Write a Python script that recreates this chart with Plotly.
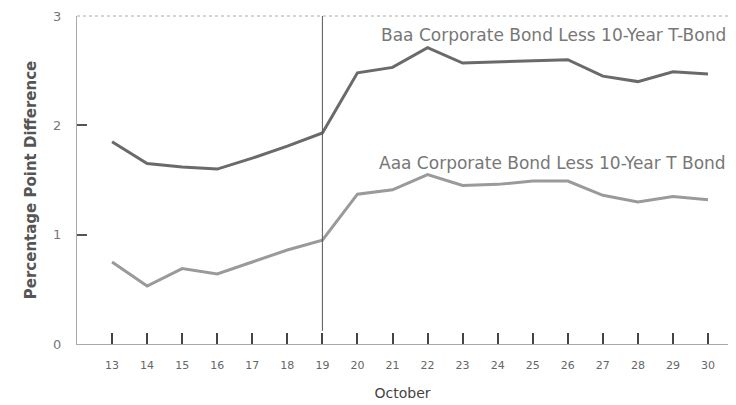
import plotly.graph_objects as go

days = list(range(13, 31))
baa = [1.85, 1.65, 1.62, 1.60, 1.70, 1.81, 1.93, 2.48, 2.53, 2.71, 2.57, 2.58, 2.59, 2.60, 2.45, 2.40, 2.49, 2.47]
aaa = [0.75, 0.53, 0.69, 0.64, 0.75, 0.86, 0.95, 1.37, 1.41, 1.55, 1.45, 1.46, 1.49, 1.49, 1.36, 1.30, 1.35, 1.32]
tick_labels = [str(d) for d in days]
baa_label = "Baa Corporate Bond Less 10-Year T-Bond"
aaa_label = "Aaa Corporate Bond Less 10-Year T Bond"
event_day = 19

FONT = "DejaVu Sans, Liberation Sans, sans-serif"

fig = go.Figure()
fig.add_trace(go.Scatter(x=days, y=baa, mode="lines", line=dict(color="#6a6a6a", width=3), showlegend=False))
fig.add_trace(go.Scatter(x=days, y=aaa, mode="lines", line=dict(color="#9a9a9a", width=3), showlegend=False))

fig.add_shape(type="line", x0=event_day, x1=event_day, y0=0.12, y1=3, xref="x", yref="y",
              line=dict(color="#555555", width=1))

fig.add_annotation(x=30.57, y=2.83, text=baa_label, showarrow=False, xanchor="right", yanchor="middle",
                   font=dict(family=FONT, size=17, color="#777777"))
fig.add_annotation(x=30.57, y=1.66, text=aaa_label, showarrow=False, xanchor="right", yanchor="middle",
                   font=dict(family=FONT, size=17, color="#777777"))

# page body has an 8px margin, so the figure is sized/offset to compensate
fig.update_layout(
    width=728, height=397,
    margin=dict(l=69, r=8, t=8, b=61),
    paper_bgcolor="white", plot_bgcolor="white",
    font=dict(family=FONT, color="#555555"),
    xaxis=dict(range=[12.0, 30.57], tickvals=days, ticktext=tick_labels,
               ticks="inside", ticklen=11, tickwidth=2, tickcolor="#444444",
               showline=True, linecolor="#aaaaaa", linewidth=1, mirror=False,
               showgrid=False, zeroline=False, automargin=False,
               tickfont=dict(size=11, color="#666666"), ticklabelstandoff=11,
               title=dict(text="October", font=dict(size=14, color="#444444"), standoff=16)),
    yaxis=dict(range=[0, 3], tickvals=[0, 1, 2, 3],
               ticks="inside", ticklen=10, tickwidth=2, tickcolor="#555555",
               showline=True, linecolor="#aaaaaa", linewidth=1,
               showgrid=False, zeroline=False, automargin=False,
               tickfont=dict(size=13, color="#777777"), ticklabelstandoff=12,
               title=dict(text="<b>Percentage Point Difference</b>", font=dict(size=15, color="#555555"), standoff=12)),
)
fig.add_shape(type="line", xref="paper", yref="paper", x0=0, x1=1, y0=1, y1=1,
              line=dict(color="#aaaaaa", width=1, dash="dot"))

fig.write_html("out.html")
